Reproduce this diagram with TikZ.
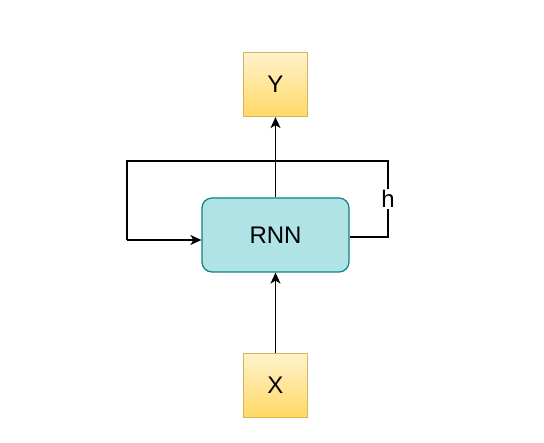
\documentclass[tikz,border=0pt]{standalone}
\usepackage{fontspec}
\setmainfont{Liberation Sans}
\usetikzlibrary{arrows.meta}
\definecolor{ioTop}{HTML}{FFF2CC}
\definecolor{ioBot}{HTML}{FFD966}
\definecolor{ioLine}{HTML}{D6B656}
\definecolor{cellFill}{HTML}{B0E3E6}
\definecolor{cellLine}{HTML}{0E8088}
\tikzset{
  label font/.style={font=\fontsize{24}{28}\selectfont},
  iobox/.style={draw=ioLine, line width=1.2pt, top color=ioTop, bottom color=ioBot,
    minimum width=64pt, minimum height=64pt, inner sep=0pt, label font},
  cellbox/.style={draw=cellLine, line width=1.2pt, fill=cellFill, rounded corners=10pt,
    minimum width=147pt, minimum height=74pt, inner sep=0pt, label font},
  wire/.style={line width=1.4pt, black},
  flow/.style={wire, -{Stealth[length=11pt,width=10pt,inset=3pt]}},
}
\begin{document}
\begin{tikzpicture}[x=1pt,y=-1pt]
  \useasboundingbox (0,0) rectangle (544,443);
  % boxes
  \node[iobox] (y) at (275.5,84.5) {Y};
  \node[cellbox] (rnn) at (275.5,235) {RNN};
  \node[iobox] (x) at (275.5,385.5) {X};
  % recurrent loop through the hidden state
  \coordinate (hr) at (388,237);
  \coordinate (tr) at (388,161);
  \coordinate (tl) at (127,161);
  \coordinate (bl) at (127,240);
  \draw[wire] (rnn.east |- hr) -- (hr) -- (tr) -- (tl) -- (bl);
  \draw[flow] (bl) -- (rnn.west |- bl);
  \node[fill=white, inner sep=1pt, label font] (h) at (388,199) {h};
  % data flow
  \draw[flow] (x.north) -- (rnn.south);
  \draw[flow] (rnn.north) -- (y.south);
\end{tikzpicture}
\end{document}
